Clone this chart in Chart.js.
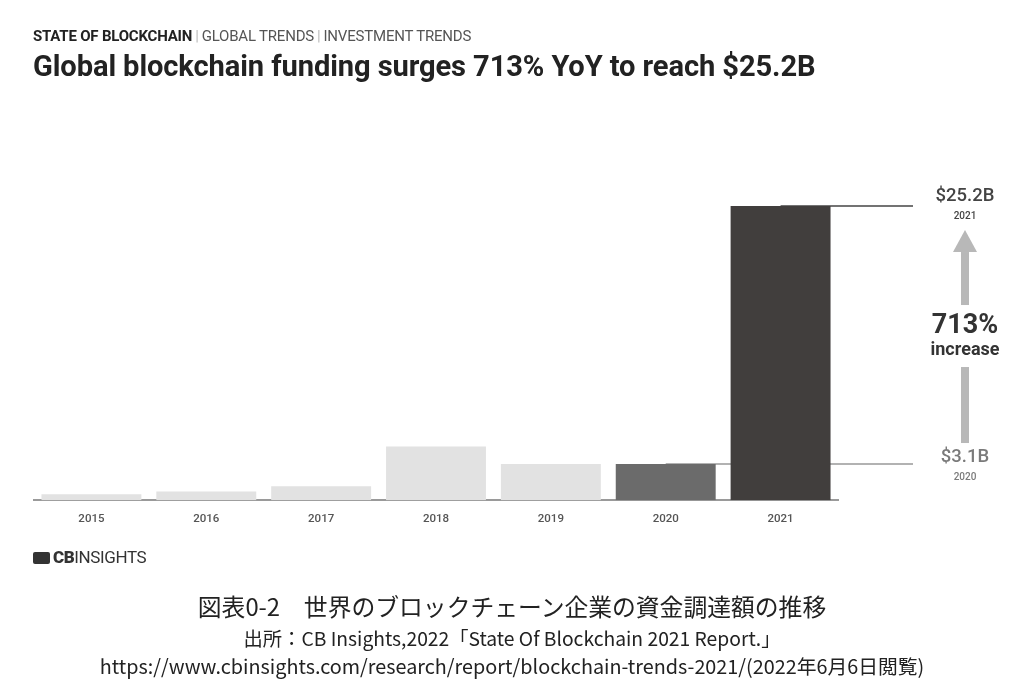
<!DOCTYPE html>
<html>
<head>
<meta charset="utf-8">
<script src="https://cdn.jsdelivr.net/npm/chart.js@4"></script>
<style>
  body { margin: 0; background: #fff; }
  #wrap { position: relative; width: 1024px; height: 700px; overflow: hidden; }
  #c { position: absolute; left: 0; top: 0; }
  .t { position: absolute; white-space: nowrap; }
  #kicker { left: 33px; top: 27px; font: 15px Roboto, sans-serif; color: #555; letter-spacing: -0.2px; }
  #kicker b { color: #222; font-weight: 700; }
  #kicker .sep { color: #bbb; padding: 0 3px; }
  #title { left: 33px; top: 49px; font: bold 29.1px Roboto, sans-serif; color: #222; letter-spacing: -0.1px; }
  #logo { left: 33px; top: 547px; font: 17px Roboto, sans-serif; color: #333; letter-spacing: -0.4px; }
  #logo b { font-weight: 900; }
  #logo i { display: inline-block; width: 17px; height: 12px; background: #333; margin-right: 3px; vertical-align: -1px; border-radius: 2px; }
  .cap { left: 0; width: 1024px; text-align: center; font-family: "Noto Sans CJK JP", sans-serif; color: #222; }
  #cap1 { top: 589px; font-size: 23.8px; line-height: 34px; }
  #cap2 { top: 624px; font-size: 19.3px; line-height: 28px; }
  #cap3 { top: 652px; font-size: 19.8px; line-height: 28px; }
</style>
</head>
<body>
<div id="wrap">
  <canvas id="c" width="1024" height="700"></canvas>
  <div class="t" id="kicker"><b>STATE OF BLOCKCHAIN</b><span class="sep">|</span>GLOBAL TRENDS<span class="sep">|</span>INVESTMENT TRENDS</div>
  <div class="t" id="title">Global blockchain funding surges 713% YoY to reach $25.2B</div>
  <div class="t" id="logo"><i></i><b>CB</b>INSIGHTS</div>
  <div class="t cap" id="cap1">図表0-2　世界のブロックチェーン企業の資金調達額の推移</div>
  <div class="t cap" id="cap2">出所：CB Insights,2022「State Of Blockchain 2021 Report.」</div>
  <div class="t cap" id="cap3">https://www.cbinsights.com/research/report/blockchain-trends-2021/(2022年6月6日閲覧)</div>
</div>
<script>
// funding, $B
var years = ['2015', '2016', '2017', '2018', '2019', '2020', '2021'];
var funding = [0.5, 0.75, 1.2, 4.6, 3.1, 3.1, 25.2];
var barColors = ['#e2e2e2', '#e2e2e2', '#e2e2e2', '#e2e2e2', '#e2e2e2', '#6b6b6b', '#413e3d'];
var growthText = '713%';

// reference lines + right side annotation
var annot = {
  id: 'annot',
  beforeDatasetsDraw: function (chart) {
    var ctx = chart.ctx;
    var x = chart.scales.x, y = chart.scales.y;
    var right = chart.chartArea.right + 75;
    var y21 = y.getPixelForValue(funding[6]);
    var y20 = y.getPixelForValue(funding[5]);
    ctx.save();
    ctx.lineWidth = 1.5;
    ctx.strokeStyle = '#444';
    ctx.beginPath();
    ctx.moveTo(x.getPixelForValue(6), y21);
    ctx.lineTo(right, y21);
    ctx.stroke();
    ctx.strokeStyle = '#999';
    ctx.beginPath();
    ctx.moveTo(x.getPixelForValue(5), y20);
    ctx.lineTo(right, y20);
    ctx.stroke();
    ctx.restore();
  },
  afterDraw: function (chart) {
    var ctx = chart.ctx;
    var y = chart.scales.y;
    var cx = chart.chartArea.right + 127;
    var y21 = y.getPixelForValue(funding[6]);
    var y20 = y.getPixelForValue(funding[5]);
    var mid = (y21 + y20) / 2;
    ctx.save();
    ctx.textAlign = 'center';
    ctx.textBaseline = 'middle';
    ctx.fillStyle = '#444';
    ctx.font = '500 18.5px Roboto';
    ctx.fillText('$' + funding[6] + 'B', cx, y21 - 10);
    ctx.font = '500 10px Roboto';
    ctx.fillText(years[6], cx, y21 + 10);
    ctx.fillStyle = '#7a7a7a';
    ctx.font = '500 18.5px Roboto';
    ctx.fillText('$' + funding[5] + 'B', cx, y20 - 7);
    ctx.font = '500 10px Roboto';
    ctx.fillText(years[5], cx, y20 + 13);
    ctx.fillStyle = '#333';
    ctx.font = 'bold 27px Roboto';
    ctx.fillText(growthText, cx, mid - 9);
    ctx.font = 'bold 18px Roboto';
    ctx.fillText('increase', cx, mid + 15);
    // arrow
    ctx.fillStyle = '#b8b8b8';
    ctx.beginPath();
    ctx.moveTo(cx, y21 + 24);
    ctx.lineTo(cx + 12, y21 + 46);
    ctx.lineTo(cx - 12, y21 + 46);
    ctx.closePath();
    ctx.fill();
    ctx.fillRect(cx - 4, y21 + 46, 8, mid - 30 - (y21 + 46));
    ctx.fillRect(cx - 4, mid + 32, 8, (y20 - 21) - (mid + 32));
    ctx.restore();
  }
};

new Chart(document.getElementById('c'), {
  type: 'bar',
  data: {
    labels: years,
    datasets: [{
      data: funding,
      backgroundColor: barColors,
      borderColor: barColors,
      borderWidth: 0,
      barPercentage: 0.87,
      categoryPercentage: 1
    }]
  },
  options: {
    responsive: false,
    animation: false,
    layout: { padding: { left: 34, right: 186, top: 150, bottom: 170 } },
    plugins: { legend: { display: false }, tooltip: { enabled: false } },
    scales: {
      x: {
        grid: { display: false },
        border: { color: '#9a9a9a', width: 2 },
        ticks: { color: '#555', padding: 4, font: { family: 'Roboto', size: 11.5, weight: '500' } }
      },
      y: { display: false, min: 0, max: 30 }
    }
  },
  plugins: [annot]
});
</script>
</body>
</html>
